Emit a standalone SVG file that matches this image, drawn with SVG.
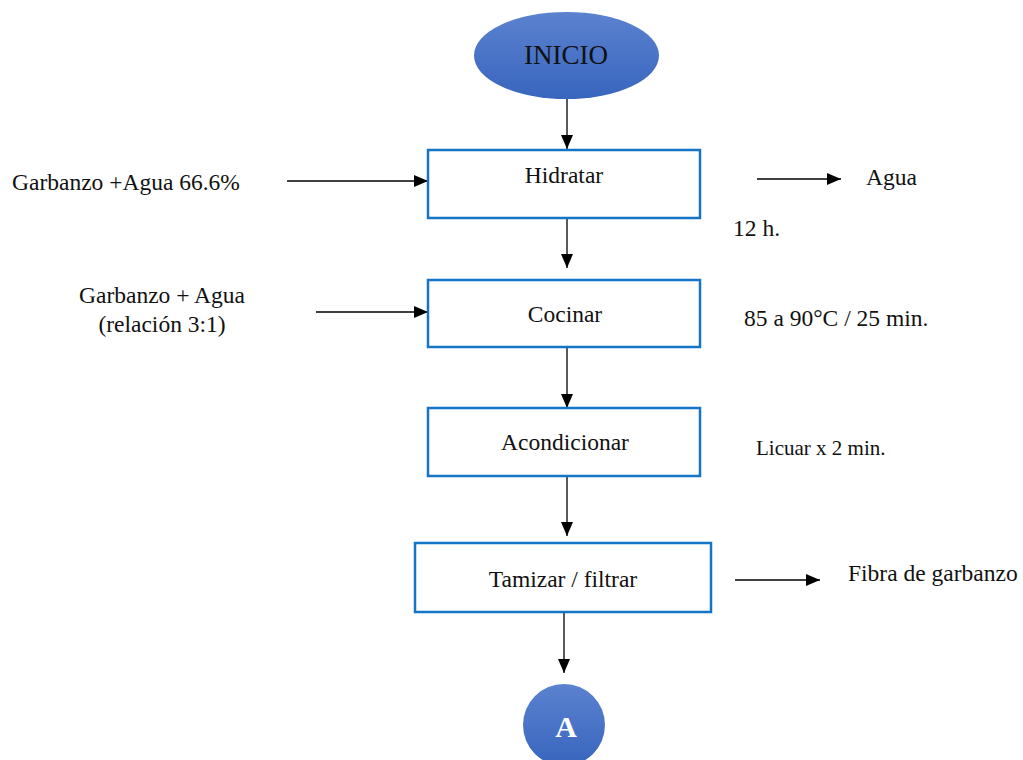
<svg xmlns="http://www.w3.org/2000/svg" width="1023" height="760" viewBox="0 0 1023 760">
<defs>
<linearGradient id="blueGrad" x1="0" y1="0" x2="0" y2="1">
<stop offset="0" stop-color="#5b82cf"/>
<stop offset="1" stop-color="#3865be"/>
</linearGradient>
<marker id="arr" markerWidth="14" markerHeight="12" refX="14" refY="6" orient="auto" markerUnits="userSpaceOnUse">
<path d="M0,0 L14,6 L0,12 Z" fill="#000"/>
</marker>
<style>
.t{font-family:"Liberation Serif","Times New Roman",serif;font-size:23.5px;fill:#111}
.box{fill:#fff;stroke:#1574c6;stroke-width:2.5}
.c{stroke:#000;stroke-width:1.3;fill:none}
</style>
</defs>
<rect width="1023" height="760" fill="#fff"/>
<g id="connectors">
<line class="c" x1="567" y1="99" x2="567" y2="149" marker-end="url(#arr)"/>
<line class="c" x1="567" y1="218" x2="567" y2="268" marker-end="url(#arr)"/>
<line class="c" x1="567" y1="347" x2="567" y2="408" marker-end="url(#arr)"/>
<line class="c" x1="567" y1="476" x2="567" y2="536" marker-end="url(#arr)"/>
<line class="c" x1="564" y1="612" x2="564" y2="673" marker-end="url(#arr)"/>
<line class="c" x1="287" y1="181" x2="428" y2="181" marker-end="url(#arr)"/>
<line class="c" x1="316" y1="312" x2="428" y2="312" marker-end="url(#arr)"/>
<line class="c" x1="757" y1="179" x2="841" y2="179" marker-end="url(#arr)"/>
<line class="c" x1="735" y1="580" x2="820" y2="580" marker-end="url(#arr)"/>
</g>
<g id="inicio">
<ellipse cx="566.5" cy="55.5" rx="92.5" ry="43.5" fill="url(#blueGrad)"/>
<text class="t" x="566" y="64" text-anchor="middle" style="font-size:27px">INICIO</text>
</g>
<g id="hidratar">
<rect class="box" x="428" y="150" width="272" height="68"/>
<text class="t" x="564" y="183" text-anchor="middle">Hidratar</text>
</g>
<g id="cocinar">
<rect class="box" x="428" y="280" width="272" height="67"/>
<text class="t" x="565" y="322" text-anchor="middle">Cocinar</text>
</g>
<g id="acondicionar">
<rect class="box" x="428" y="408" width="272" height="68"/>
<text class="t" x="565" y="450" text-anchor="middle">Acondicionar</text>
</g>
<g id="tamizar">
<rect class="box" x="415" y="543" width="296" height="69"/>
<text class="t" x="563" y="587" text-anchor="middle">Tamizar / filtrar</text>
</g>
<g id="a">
<circle cx="564" cy="725" r="41" fill="url(#blueGrad)"/>
<text class="t" x="566" y="737" text-anchor="middle" style="font-size:30px;font-weight:bold;fill:#fff">A</text>
</g>
<g id="labels">
<text class="t" x="12" y="190">Garbanzo +Agua 66.6%</text>
<text class="t" x="162" y="303" text-anchor="middle">Garbanzo + Agua</text>
<text class="t" x="162" y="332" text-anchor="middle">(relación 3:1)</text>
<text class="t" x="866" y="185">Agua</text>
<text class="t" x="733" y="236">12 h.</text>
<text class="t" x="744" y="326">85 a 90°C / 25 min.</text>
<text class="t" x="756" y="455" style="font-size:21px">Licuar x 2 min.</text>
<text class="t" x="848" y="581">Fibra de garbanzo</text>
</g>
</svg>
